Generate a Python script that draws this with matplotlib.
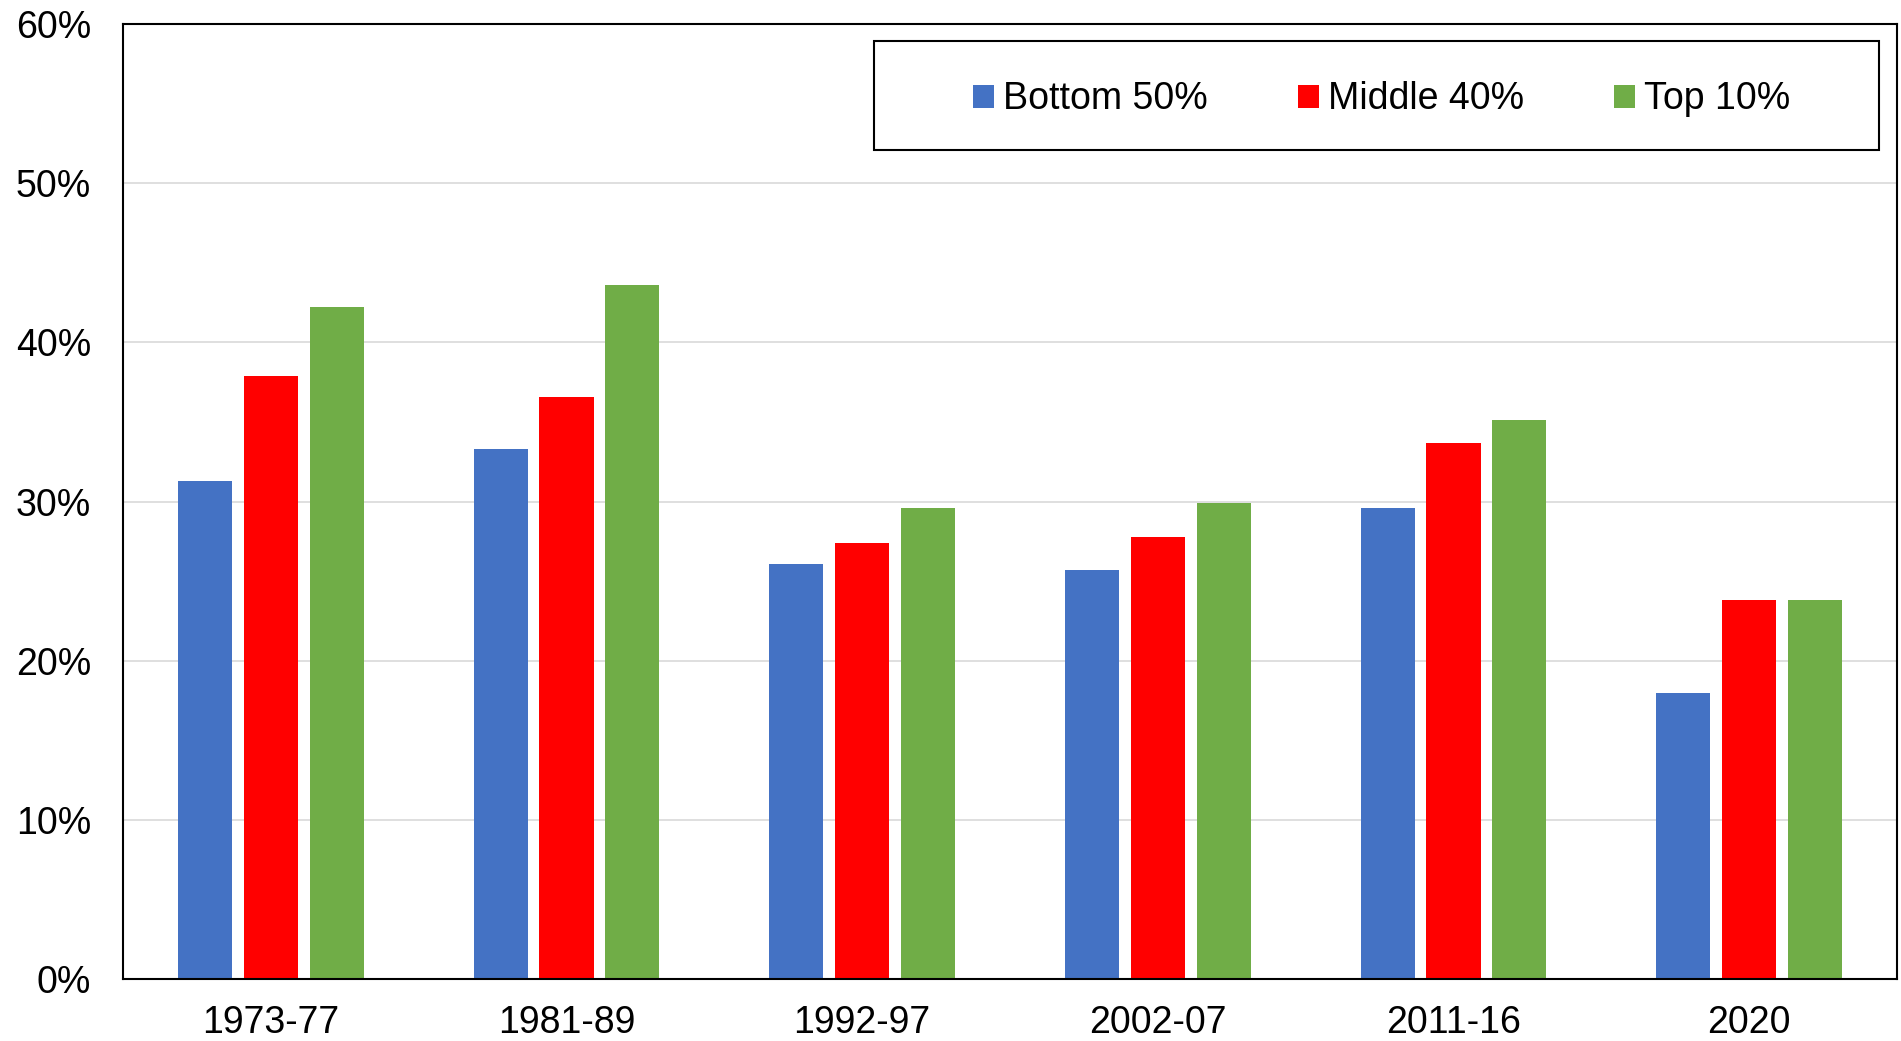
import numpy as np
import matplotlib
matplotlib.use("Agg")
from matplotlib import pyplot as plt
from matplotlib.patches import Rectangle
from matplotlib.ticker import FuncFormatter

plt.rcParams['font.family'] = ['Liberation Sans', 'DejaVu Sans']

periods = ['1973-77', '1981-89', '1992-97', '2002-07', '2011-16', '2020']
bottom50 = [31.3, 33.3, 26.1, 25.7, 29.6, 18.0]
middle40 = [37.9, 36.6, 27.4, 27.8, 33.7, 23.8]
top10 = [42.2, 43.6, 29.6, 29.9, 35.1, 23.8]
series = ['Bottom 50%', 'Middle 40%', 'Top 10%']
colors = ['#4472C4', '#FF0000', '#70AD47']

fig = plt.figure(figsize=(19.01, 10.41), dpi=100)
ax = fig.add_axes([0.0647, 0.0595, 0.9332, 0.9174])

x = np.arange(len(periods))
w = 0.183
step = 0.223
for i, (vals, name, c) in enumerate(zip([bottom50, middle40, top10], series, colors)):
    ax.bar(x + (i - 1) * step, vals, width=w, color=c, label=name, zorder=3)

ax.set_xlim(-0.5, len(periods) - 0.5)
ax.set_ylim(0, 60)
ax.set_yticks(np.arange(0, 61, 10))
ax.yaxis.set_major_formatter(FuncFormatter(lambda v, p: '%d%%' % v))
ax.set_xticks(x)
ax.set_xticklabels(periods)
ax.tick_params(axis='y', length=0, pad=23, labelsize=27)
ax.tick_params(axis='x', length=0, pad=19, labelsize=27)
ax.grid(axis='y', color='#d9d9d9', linewidth=1.2, zorder=0)
for s in ax.spines.values():
    s.set_linewidth(1.5)
    s.set_color('black')
    s.set_zorder(4)

# legend frame drawn separately, entries centred inside it
box = Rectangle((0.4236, 0.868), 0.5665, 0.114, transform=ax.transAxes,
                facecolor='white', edgecolor='black', linewidth=1.5, zorder=5)
ax.add_patch(box)
leg = ax.legend(loc='center', bbox_to_anchor=(0.7097, 0.921), ncol=3, frameon=False,
                fontsize=27, handlelength=0.55, handleheight=0.55, handletextpad=0.25,
                columnspacing=2.4)
leg.set_zorder(6)

fig.savefig('out.png', dpi=100)
